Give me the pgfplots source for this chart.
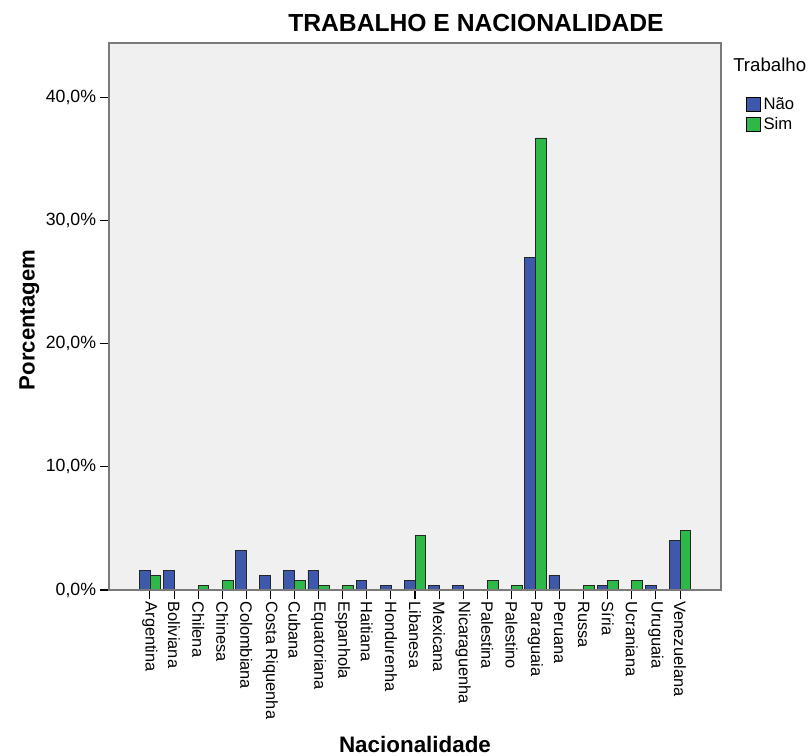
\documentclass[border=0pt]{standalone}
\usepackage{pgfplots}
\usepackage{pgfplotstable}
\pgfplotsset{compat=1.18}
\usepackage{fontspec}
\setmainfont{Liberation Sans}
\definecolor{bblue}{HTML}{3E58AC}
\definecolor{bgreen}{HTML}{2EB848}
\definecolor{bgc}{HTML}{F0F0F0}
\definecolor{frame}{HTML}{7A7A7A}

\pgfplotstableread{
idx Nao Sim
0 1.613 1.210
1 1.613 0
2 0 0.403
3 0 0.806
4 3.226 0
5 1.210 0
6 1.613 0.806
7 1.613 0.403
8 0 0.403
9 0.806 0
10 0.403 0
11 0.806 4.435
12 0.403 0
13 0.403 0
14 0 0.806
15 0 0.403
16 27.016 36.694
17 1.210 0
18 0 0.403
19 0.403 0.806
20 0 0.806
21 0.403 0
22 4.032 4.839
}\datatable

\begin{document}
\begin{tikzpicture}
\useasboundingbox (0,0) rectangle (608.25pt,-567pt);
\begin{axis}[
  at={(81.75pt,-442.5pt)}, anchor=south west,
  scale only axis, width=459pt, height=410.25pt,
  xmin=-1.7, xmax=23.7, ymin=0, ymax=44.4,
  ybar=0pt, bar width=8pt,
  axis background/.style={fill=bgc},
  axis line style={draw=frame, line width=0.9pt},
  axis on top,
  tick align=outside, major tick length=7pt,
  xtick pos=bottom, ytick pos=left,
  tick style={black, line width=0.8pt},
  xtick={0,...,22},
  xticklabels={Argentina,Boliviana,Chilena,Chinesa,Colombiana,Costa Riquenha,Cubana,Equatoriana,Espanhola,Haitiana,Hondurenha,Libanesa,Mexicana,Nicaraguenha,Palestina,Palestino,Paraguaia,Peruana,Russa,Síria,Ucraniana,Uruguaia,Venezuelana},
  xticklabel style={rotate=-90, anchor=west, font=\fontsize{12.3}{14}\selectfont, inner sep=1.5pt},
  ytick={0,10,20,30,40},
  yticklabels={{0,0\%},{10,0\%},{20,0\%},{30,0\%},{40,0\%}},
  yticklabel style={font=\fontsize{13.3}{15}\selectfont, inner sep=2.5pt},
  legend style={at={(1.04,0.905)}, anchor=north west, draw=none, fill=none,
    font=\fontsize{12.5}{14}\selectfont, row sep=0pt, inner sep=0pt,
    cells={anchor=west}},
  clip=false,
]
\addplot[fill=bblue, draw=black!85, line width=0.6pt,
  legend image code/.code={\draw[fill=bblue,draw=black,line width=0.8pt] (0pt,-5.3pt) rectangle (10.6pt,5.3pt);}]
  table[x=idx, y=Nao] {\datatable};
\addlegendentry{Não}
\addplot[fill=bgreen, draw=black!85, line width=0.6pt,
  legend image code/.code={\draw[fill=bgreen,draw=black,line width=0.8pt] (0pt,-5.3pt) rectangle (10.6pt,5.3pt);}]
  table[x=idx, y=Sim] {\datatable};
\addlegendentry{Sim}
\draw[black, line width=1.3pt] (rel axis cs:0,1) -- (rel axis cs:0,0) -- (rel axis cs:1,0);
\end{axis}
\node[anchor=base, font=\fontsize{18.5}{20}\selectfont\bfseries] at (357pt,-23.8pt) {TRABALHO E NACIONALIDADE};
\node[anchor=base west, font=\fontsize{14}{16}\selectfont, inner sep=0pt] at (549.75pt,-54pt) {Trabalho};
\node[rotate=90, font=\fontsize{16.6}{18}\selectfont\bfseries] at (22pt,-240pt) {Porcentagem};
\node[anchor=base, font=\fontsize{16.8}{18}\selectfont\bfseries] at (311.25pt,-564pt) {Nacionalidade};
\end{tikzpicture}
\end{document}
